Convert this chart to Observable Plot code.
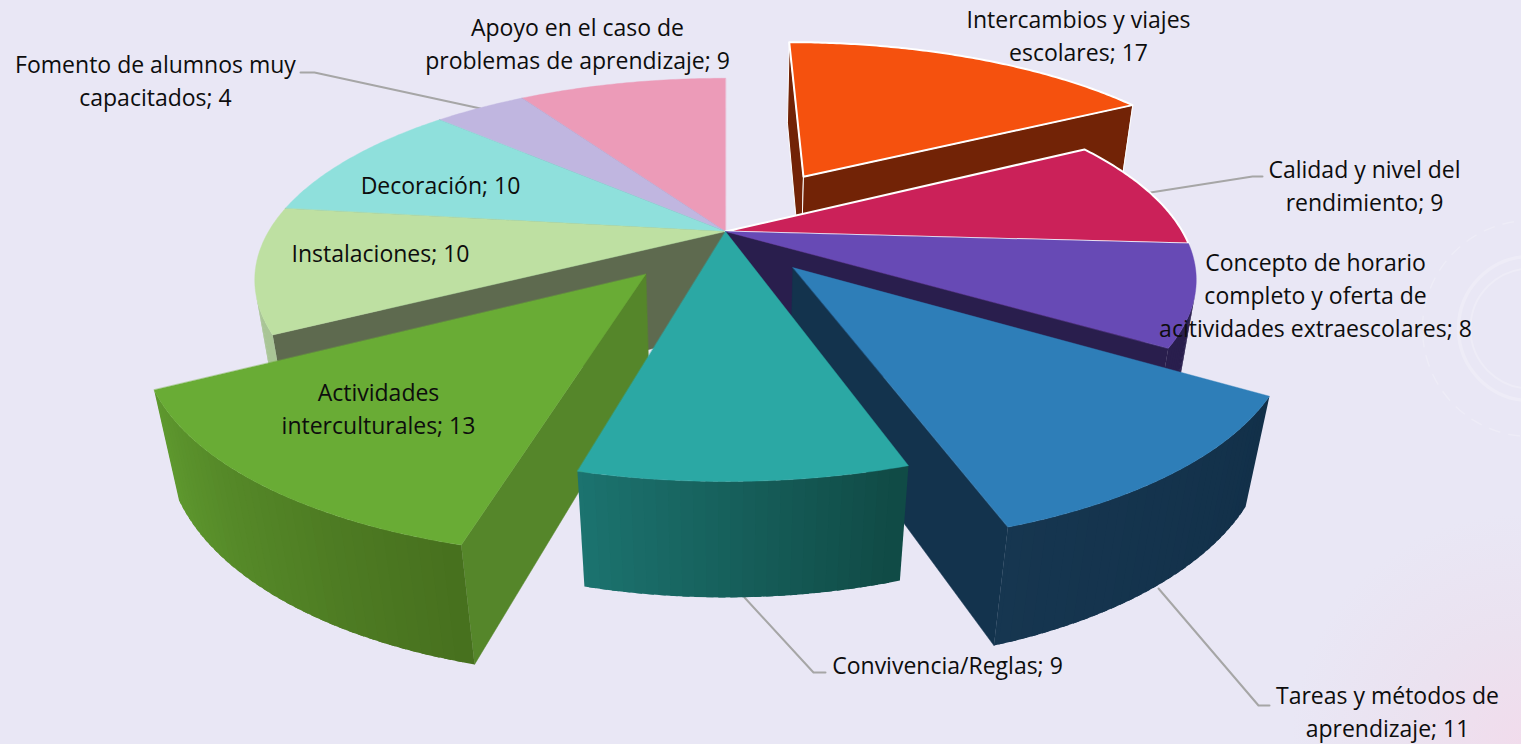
<!DOCTYPE html>
<html><head><meta charset="utf-8">
<script src="https://cdn.jsdelivr.net/npm/d3@7"></script>
<script src="https://cdn.jsdelivr.net/npm/@observablehq/plot@0.6"></script>
<style>
html,body{margin:0;padding:0;width:1521px;height:744px;overflow:hidden;
background:radial-gradient(circle at 1521px 744px,#f1dcec 0,#ebe2f0 110px,#e9e7f5 230px);}
svg{display:block}
</style></head><body><div id="chart"></div>
<script>
// --- data (clockwise from 12 o'clock) ---
const categories = ["Intercambios y viajes\nescolares","Calidad y nivel del\nrendimiento","Concepto de horario\ncompleto y oferta de\nacitividades extraescolares","Tareas y métodos de\naprendizaje","Convivencia/Reglas","Actividades\ninterculturales","Instalaciones","Decoración","Fomento de alumnos muy\ncapacitados","Apoyo en el caso de\nproblemas de aprendizaje"];
const values = [17,9,8,11,9,13,10,10,4,9];
const explosion = [0.36,0,0,0.23,0,0.27,0,0,0,0];

// --- styles ---
const topColors = ["#F5510E","#CB2159","#674AB5","#2E7EB8","#2BA8A4","#69AC35","#BEE0A2","#8FE0DC","#C0B6E0","#EC9BB8"];
const wallColors = ["#722306","#7a1435","#291E4D","#13334D","#17605C","#55862A","#5E6A4F","#5a8a88","#7a7490","#8f5d70"];
const rimStart = ["#722306","#7a1435","#291E4D","#123049","#104A45","#47701E","#A9C596","#7fc4c0","#a8a0c4","#c98aa0"];
const rimEnd = ["#722306","#7a1435","#291E4D","#163650","#1C7470","#5F9A2F","#A9C596","#7fc4c0","#a8a0c4","#c98aa0"];
const outlined = [2,2,0,0,0,0,0,0,0,0];
const paintOrder = [0,9,8,7,6,1,2,3,5,4];

// --- label layout ---
const labelX = [1078,1364,1315,1387,947,378,380,440,155,577];
const labelY = [33,183.5,293,709,663,406.5,251,183,78.5,41];
const leaders = [
  {id:1,pts:[[1150,192],[1252,176],[1262,176]]},
  {id:3,pts:[[1158,588],[1258,705],[1269,705]]},
  {id:4,pts:[[744,597],[813,672],[825,672]]},
  {id:8,pts:[[480,108],[314,72],[300,72]]}
];

// --- perspective projection of the extruded pie ---
const cam = {cx:725,cy:231,A:457,B:190,k:0.24,m:0.038,C:102};
function project(X,Y,h){
  const w = 1 - cam.k*Y + cam.m*h;
  return [cam.cx + cam.A*X/w, cam.cy + (cam.B*Y + cam.C*h)/w];
}
const total = d3.sum(values);
const cum = d3.cumsum(values);
const faces = [];
let fid = 0;
function area(p){let s=0;for(let i=0;i<p.length;i++){const a=p[i],b=p[(i+1)%p.length];s+=a[0]*b[1]-b[0]*a[1];}return s/2;}
function addFace(pts,fill,stroke,sw){
  const id = fid++;
  pts.forEach(p=>faces.push({id,x:p[0],y:p[1],fill,stroke,sw}));
}
for(const i of paintOrder){
  const a0 = (cum[i]-values[i])/total*2*Math.PI, a1 = cum[i]/total*2*Math.PI;
  const mid=(a0+a1)/2, e=explosion[i];
  const ox=e*Math.sin(mid), oy=-e*Math.cos(mid);
  const P=(a,h)=>project(ox+Math.sin(a),oy-Math.cos(a),h);
  const apexT=project(ox,oy,0), apexB=project(ox,oy,1);
  const ol=outlined[i];
  const wallStroke=ol?"#ffffff":wallColors[i], wsw=ol?1:0.5;
  const walls=[[apexT,P(a0,0),P(a0,1),apexB],[P(a1,0),apexT,apexB,P(a1,1)]];
  const n=Math.max(8,Math.round(values[i]*3));
  const shade=d3.interpolateRgb(rimStart[i],rimEnd[i]);
  for(const w of walls){ if(area(w)<0) addFace(w,wallColors[i],wallStroke,wsw); }
  // painted from a1 down to a0, each quad overlapping the previous one so no seams show
  for(let s=n-1;s>=0;s--){
    const b0=a0+(a1-a0)*s/n,b1=a0+(a1-a0)*Math.min(n,s+1.6)/n;
    const q=[P(b0,0),P(b1,0),P(b1,1),P(b0,1)];
    if(area(q)<0){const c=d3.color(shade((s+.5)/n)).formatHex();addFace(q,c,"none",0);}
  }
  const top=[apexT];
  const m=Math.max(24,values[i]*6);
  for(let s=0;s<=m;s++) top.push(P(a0+(a1-a0)*s/m,0));
  addFace(top,topColors[i],ol?"#ffffff":topColors[i],ol?ol:0.4);
}
const leaderRows = leaders.flatMap(l=>l.pts.map(p=>({id:l.id,x:p[0],y:p[1]})));
const labelRows = categories.map((c,i)=>({text:c+"; "+values[i],x:labelX[i],y:labelY[i]}));
const rings = [{x:1530,y:328,r:72,w:3.5,d:"none"},{x:1530,y:328,r:60,w:2,d:"none"},{x:1530,y:328,r:108,w:1.5,d:"12 8"}];

const plot = Plot.plot({
  width:1521,height:744,margin:0,
  style:{background:"transparent",overflow:"hidden"},
  x:{domain:[0,1521],range:[0,1521],axis:null},
  y:{domain:[0,744],range:[0,744],axis:null},
  marks:[
    ...rings.map(r=>Plot.dot([r],{x:"x",y:"y",r:r.r,fill:"none",stroke:"#ffffff",strokeOpacity:0.22,strokeWidth:r.w,strokeDasharray:r.d})),
    Plot.line(leaderRows,{x:"x",y:"y",z:"id",stroke:"#a6a6a6",strokeWidth:2}),
    Plot.line(faces,{x:"x",y:"y",z:"id",fill:"fill",stroke:"stroke",strokeWidth:"sw",curve:"linear-closed",strokeLinejoin:"round"}),
    Plot.text(labelRows,{x:"x",y:"y",text:"text",fontFamily:"Open Sans",fontSize:23,lineHeight:1.435,lineAnchor:"middle",textAnchor:"middle",fill:"#0d0d0d"})
  ]
});
document.getElementById("chart").appendChild(plot);
</script></body></html>
